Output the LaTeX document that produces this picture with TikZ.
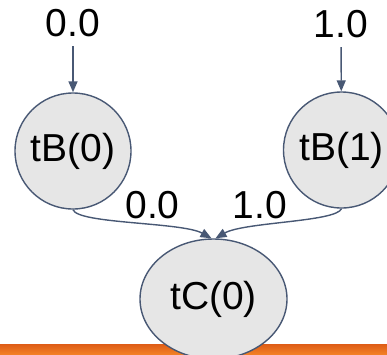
\documentclass[tikz,border=0pt]{standalone}
\usepackage{fontspec}
\setmainfont{Liberation Sans}
\usetikzlibrary{arrows.meta,shapes.geometric}
\definecolor{edgeblue}{RGB}{72,88,116}
\definecolor{nodefill}{RGB}{230,230,230}
\definecolor{bandtop}{RGB}{222,92,22}
\definecolor{bandbot}{RGB}{242,128,38}
\tikzset{
  every node/.style={font=\fontsize{39}{44}\selectfont},
  statenode/.style={circle, draw=edgeblue, fill=nodefill, line width=1.4pt,
    minimum size=116pt, inner sep=0pt},
  leafnode/.style={ellipse, draw=edgeblue, fill=nodefill, line width=1.4pt,
    minimum width=147pt, minimum height=120pt, inner sep=0pt},
  valtext/.style={inner sep=0pt},
  link/.style={draw=edgeblue, line width=1.4pt,
    -{Triangle[length=11pt,width=9pt]}},
}
\begin{document}
\begin{tikzpicture}[x=1pt,y=-1pt]
  \useasboundingbox (0,0) rectangle (387,354);
  % decorative band along the lower edge
  \shade[top color=bandtop, bottom color=bandbot] (0,344) rectangle (387,354);

  % nodes
  \node[statenode] (tB0) at (73,151) {tB(0)};
  \node[statenode] (tB1) at (341.5,150) {tB(1)};
  \node[leafnode] (tC) at (213.5,299) {tC(0)};

  % input values
  \node[valtext] (in0) at (73,23) {0.0};
  \node[valtext] (in1) at (341,24) {1.0};
  \draw[link, shorten <=9pt] (in0) -- (tB0);
  \draw[link, shorten <=9pt] (in1) -- (tB1);

  % messages into tC(0)
  \draw[link] (tB0.south) .. controls (78,224) and (182,222) .. ([xshift=-2pt]tC.north);
  \draw[link] (tB1.south) .. controls (336,222) and (244,222) .. ([xshift=2pt]tC.north);
  \node[valtext] (m0) at (152.5,205.5) {0.0};
  \node[valtext] (m1) at (260,205) {1.0};
\end{tikzpicture}
\end{document}
